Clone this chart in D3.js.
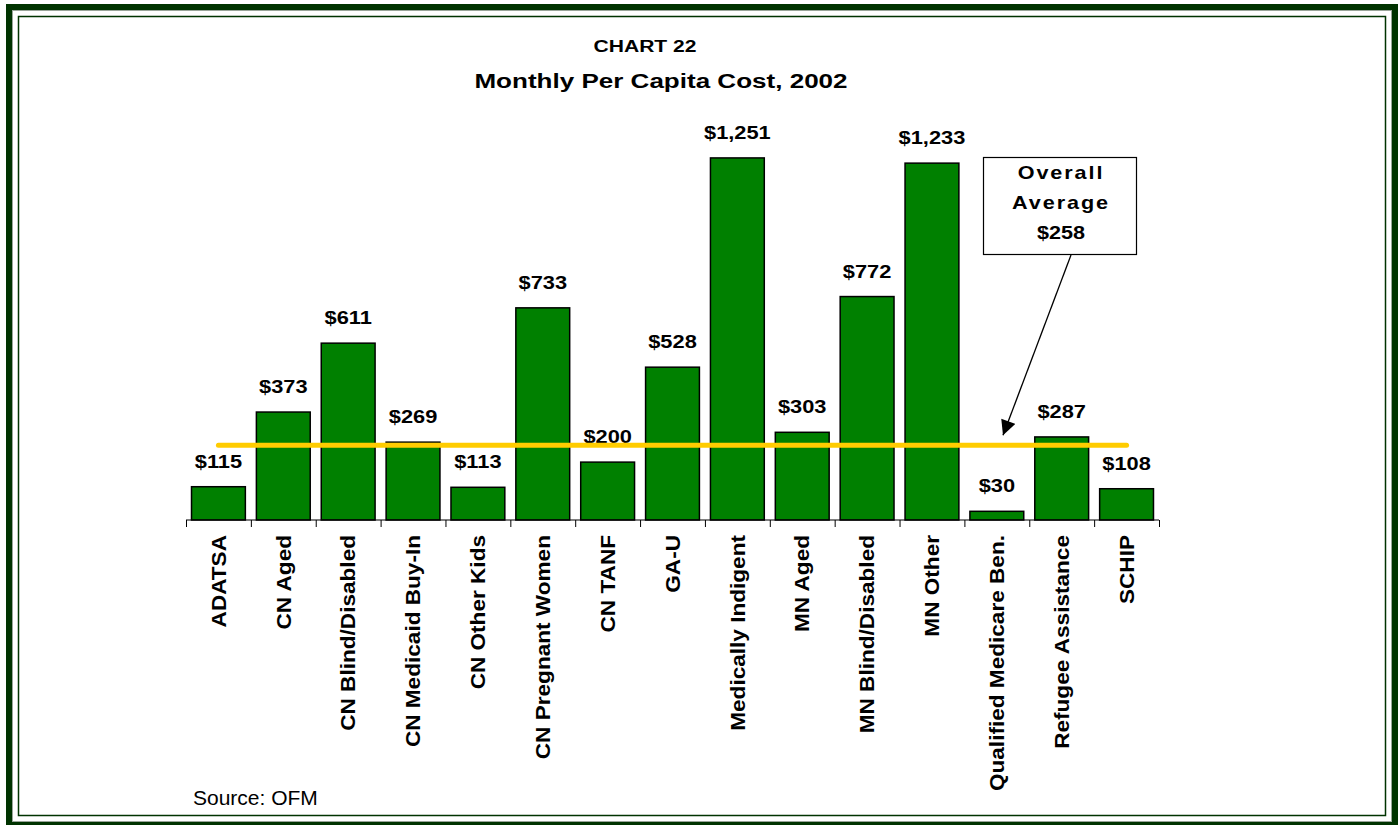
<!DOCTYPE html>
<html>
<head>
<meta charset="utf-8">
<script src="https://cdn.jsdelivr.net/npm/d3@7"></script>
<style>
  body { margin: 0; background: #fff; }
  svg text { font-family: "Liberation Sans", Arial, sans-serif; fill: #000; }
</style>
</head>
<body>
<div id="chart"></div>
<script>
// chart data
const categories = ["ADATSA", "CN Aged", "CN Blind/Disabled", "CN Medicaid Buy-In", "CN Other Kids",
    "CN Pregnant Women", "CN TANF", "GA-U", "Medically Indigent", "MN Aged",
    "MN Blind/Disabled", "MN Other", "Qualified Medicare Ben.", "Refugee Assistance", "SCHIP"];
const costs = [115, 373, 611, 269, 113, 733, 200, 528, 1251, 303, 772, 1233, 30, 287, 108];
const overallAverage = 258;
const yDomain = [0, 1400];

const width = 1399, height = 825;
const svg = d3.select("#chart").append("svg")
    .attr("width", width)
    .attr("height", height);

// text in the original is drawn a bit wide, so stretch it sideways
function wideText(sel, px, py, sx, txt) {
    return sel.append("text")
        .attr("transform", `translate(${px},${py}) scale(${sx},1)`)
        .text(txt);
}

// frame
svg.append("rect").attr("x", 9).attr("y", 7).attr("width", 1386).attr("height", 818)
    .attr("fill", "none").attr("stroke", "#003300").attr("stroke-width", 6);
svg.append("rect").attr("x", 12.5).attr("y", 10.5).attr("width", 1379).attr("height", 811)
    .attr("fill", "none").attr("stroke", "#9aa59a").attr("stroke-width", 1);
svg.append("rect").attr("x", 18.5).attr("y", 16.5).attr("width", 1367).attr("height", 799)
    .attr("fill", "none").attr("stroke", "#003300").attr("stroke-width", 1.5);

// titles
wideText(svg, 645, 52, 1.24, "CHART 22")
    .attr("text-anchor", "middle")
    .style("font-size", "17px").style("font-weight", "bold");
wideText(svg, 661, 88, 1.24, "Monthly Per Capita Cost, 2002")
    .attr("text-anchor", "middle")
    .style("font-size", "21px").style("font-weight", "bold");

const x = d3.scaleBand().domain(categories).range([186, 1159]).paddingInner(0.17).paddingOuter(0.085);
const y = d3.scaleLinear().domain(yDomain).range([520, 114.8]);

// bars
svg.selectAll("rect.bar")
    .data(costs)
    .enter()
    .append("rect")
    .attr("class", "bar")
    .attr("x", (d, i) => x(categories[i]))
    .attr("y", d => y(d))
    .attr("width", x.bandwidth())
    .attr("height", d => y(0) - y(d))
    .attr("fill", "#008000")
    .attr("stroke", "#000")
    .attr("stroke-width", 1.5);

// value labels
svg.selectAll("text.val")
    .data(costs)
    .enter()
    .append("text")
    .attr("class", "val")
    .attr("transform", (d, i) => `translate(${x(categories[i]) + x.bandwidth() / 2},${y(d) - 19}) scale(1.18,1)`)
    .attr("text-anchor", "middle")
    .style("font-size", "18.5px").style("font-weight", "bold")
    .text(d => "$" + d3.format(",")(d));

// category axis
const xAxisPos = d3.scaleLinear().domain([0, categories.length]).range([186, 1159]);
const axis = svg.append("g").attr("transform", `translate(0,${y(0)})`)
    .call(d3.axisBottom(xAxisPos).ticks(categories.length).tickSize(7).tickFormat(""));
axis.select(".domain").attr("stroke", "#000").attr("stroke-width", 1.2).attr("d", "M186,0H1159");
axis.selectAll(".tick line").attr("stroke", "#000");

svg.selectAll("text.cat")
    .data(categories)
    .enter()
    .append("text")
    .attr("class", "cat")
    .attr("transform", d => `translate(${x(d) + x.bandwidth() / 2},535) rotate(-90) scale(1.13,1)`)
    .attr("text-anchor", "end")
    .attr("dy", "0.36em")
    .style("font-size", "20px").style("font-weight", "bold")
    .text(d => d);

// overall average line
svg.append("line")
    .attr("x1", x(categories[0]) + x.bandwidth() / 2)
    .attr("x2", x(categories[categories.length - 1]) + x.bandwidth() / 2)
    .attr("y1", y(overallAverage)).attr("y2", y(overallAverage))
    .attr("stroke", "#FFCC00").attr("stroke-width", 5).attr("stroke-linecap", "round");

// callout
svg.append("defs").append("marker")
    .attr("id", "arrow").attr("viewBox", "0 0 10 10")
    .attr("refX", 10).attr("refY", 5)
    .attr("markerWidth", 17).attr("markerHeight", 15)
    .attr("markerUnits", "userSpaceOnUse")
    .attr("orient", "auto")
    .append("path").attr("d", "M0,0L10,5L0,10Z").attr("fill", "#000");

svg.append("rect").attr("x", 983.5).attr("y", 157.5).attr("width", 153).attr("height", 97)
    .attr("fill", "#fff").attr("stroke", "#000").attr("stroke-width", 1.2);
["Overall", "Average", "$" + overallAverage].forEach((t, i) => {
    wideText(svg, 1061, 179 + i * 30, 1.2, t)
        .attr("text-anchor", "middle")
        .style("font-size", "18px").style("font-weight", "bold")
        .style("letter-spacing", i < 2 ? "1.6px" : "0px");
});
svg.append("line")
    .attr("x1", 1071).attr("y1", 255)
    .attr("x2", 1003).attr("y2", y(overallAverage) - 10)
    .attr("stroke", "#000").attr("stroke-width", 1.3)
    .attr("marker-end", "url(#arrow)");

// source
svg.append("text").attr("x", 193).attr("y", 805)
    .style("font-size", "21px")
    .text("Source: OFM");
</script>
</body>
</html>
